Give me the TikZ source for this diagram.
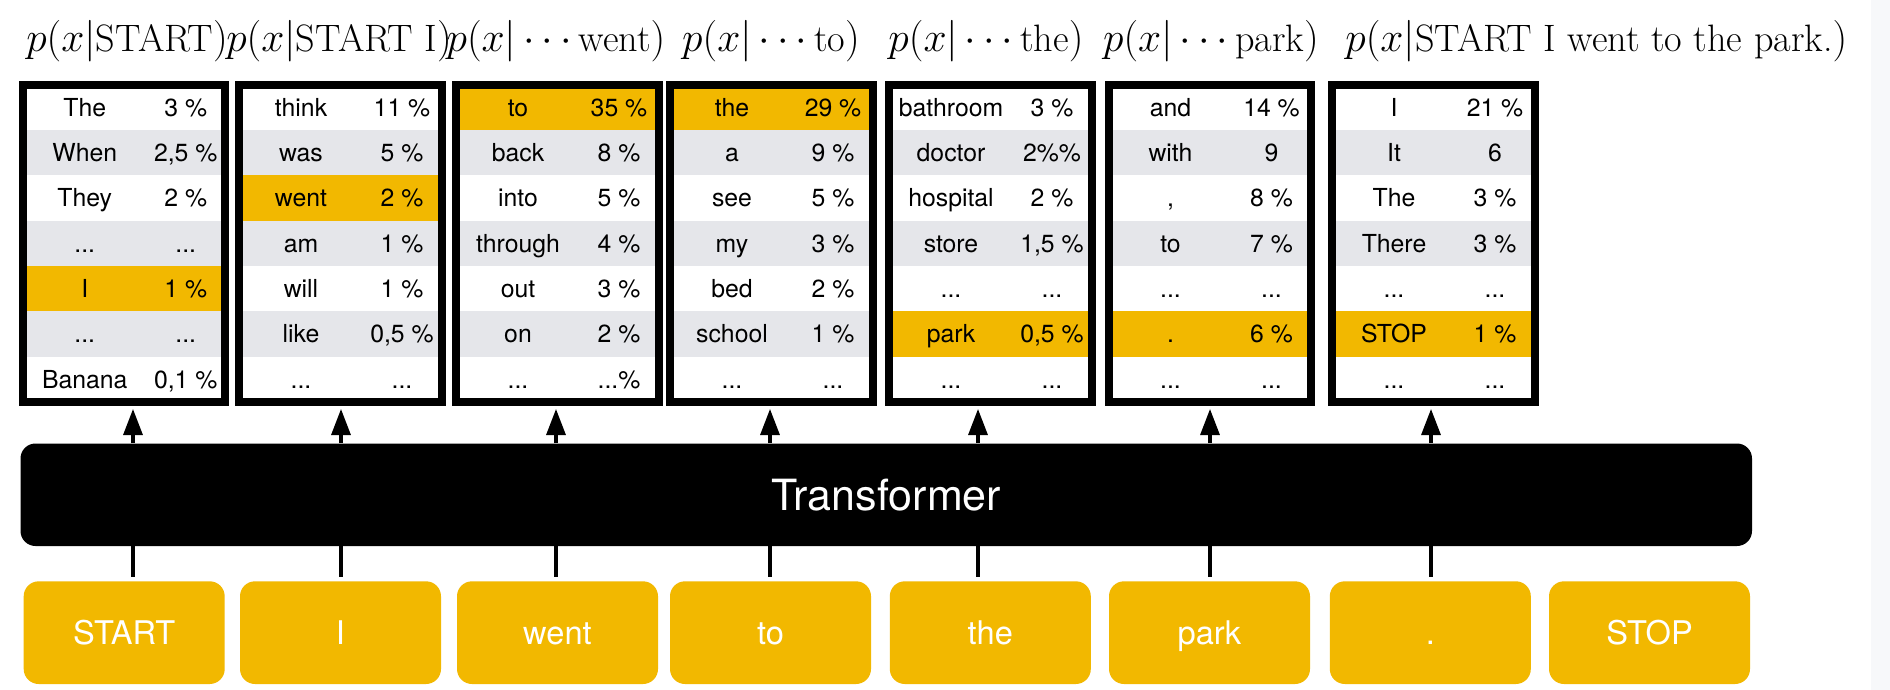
\documentclass[tikz,border=0pt]{standalone}
\usepackage{fontspec}
\newfontfamily\hel{TeX Gyre Heros}
\usetikzlibrary{arrows.meta}
\definecolor{ylw}{HTML}{F2B800}
\definecolor{rowgray}{HTML}{E5E6EA}
\definecolor{stripgray}{HTML}{F7F8FA}
\tikzset{
 cell/.style={anchor=base, inner sep=0pt, font=\hel\fontsize{12.4}{14}\selectfont},
 frame/.style={draw=black, line width=4pt, minimum width=101.25pt, minimum height=158.65pt, inner sep=0pt},
 ttl/.style={anchor=base, inner sep=0pt, font=\fontsize{19.1}{22}\selectfont},
 trans/.style={fill=black, rounded corners=7.5pt, minimum width=865.75pt, minimum height=51.25pt, text=white, font=\hel\fontsize{21.5}{24}\selectfont, inner sep=0pt},
 tok/.style={fill=ylw, rounded corners=7.5pt, minimum width=100.5pt, minimum height=51.35pt, text=white, font=\hel\fontsize{16.3}{19}\selectfont, inner sep=0pt, text height=11.7pt, text depth=0pt},
 arr/.style={line width=1.6pt, -{Triangle[length=13pt,width=9.5pt]}, shorten >=1.5pt},
 feed/.style={line width=1.6pt, shorten <=2pt},
}
% #1 id, #2 left x, #3 row, #4 fill, #5 word, #6 percent
\newcommand\trow[6]{%
 \fill[#4] (#2+4,{84.7+45.33*(#3-1)}) rectangle (#2+206.5,{84.7+45.33*#3});
 \node[cell] (#1w#3) at (#2+66,{84.7+45.33*(#3-0.5)+8.8}) {#5};
 \node[cell] (#1p#3) at (#2+167,{84.7+45.33*(#3-0.5)+8.8}) {#6};}
\begin{document}
\begin{tikzpicture}[x=0.5pt,y=-0.5pt]
\useasboundingbox (0,0) rectangle (1890,690);
\fill[white] (0,0) rectangle (1890,690);
\fill[stripgray] (1871,0) rectangle (1890,690);

% titles
\node[ttl] (t1) at (127,52) {$p(x|\textrm{START})$};
\node[ttl] (t2) at (339,52) {$p(x|\textrm{START I})$};
\node[ttl] (t3) at (556,52) {$p(x|\cdots\textrm{went})$};
\node[ttl] (t4) at (771,52) {$p(x|\cdots\textrm{to})$};
\node[ttl] (t5) at (986,52) {$p(x|\cdots\textrm{the})$};
\node[ttl] (t6) at (1211,52) {$p(x|\cdots\textrm{park})$};
\node[ttl, anchor=base west] (t7) at (1345,52) {$p(x|\textrm{START I went to the park.})$};

% table A
\trow{a}{18.75}{1}{white}{The}{3 \%}
\trow{a}{18.75}{2}{rowgray}{When}{2,5 \%}
\trow{a}{18.75}{3}{white}{They}{2 \%}
\trow{a}{18.75}{4}{rowgray}{...}{...}
\trow{a}{18.75}{5}{ylw}{I}{1 \%}
\trow{a}{18.75}{6}{rowgray}{...}{...}
\trow{a}{18.75}{7}{white}{Banana}{0,1 \%}
% table B
\trow{b}{235}{1}{white}{think}{11 \%}
\trow{b}{235}{2}{rowgray}{was}{5 \%}
\trow{b}{235}{3}{ylw}{went}{2 \%}
\trow{b}{235}{4}{rowgray}{am}{1 \%}
\trow{b}{235}{5}{white}{will}{1 \%}
\trow{b}{235}{6}{rowgray}{like}{0,5 \%}
\trow{b}{235}{7}{white}{...}{...}
% table C
\trow{c}{452}{1}{ylw}{to}{35 \%}
\trow{c}{452}{2}{rowgray}{back}{8 \%}
\trow{c}{452}{3}{white}{into}{5 \%}
\trow{c}{452}{4}{rowgray}{through}{4 \%}
\trow{c}{452}{5}{white}{out}{3 \%}
\trow{c}{452}{6}{rowgray}{on}{2 \%}
\trow{c}{452}{7}{white}{...}{...\%}
% table D
\trow{d}{666}{1}{ylw}{the}{29 \%}
\trow{d}{666}{2}{rowgray}{a}{9 \%}
\trow{d}{666}{3}{white}{see}{5 \%}
\trow{d}{666}{4}{rowgray}{my}{3 \%}
\trow{d}{666}{5}{white}{bed}{2 \%}
\trow{d}{666}{6}{rowgray}{school}{1 \%}
\trow{d}{666}{7}{white}{...}{...}
% table E
\trow{e}{885}{1}{white}{bathroom}{3 \%}
\trow{e}{885}{2}{rowgray}{doctor}{2\%\%}
\trow{e}{885}{3}{white}{hospital}{2 \%}
\trow{e}{885}{4}{rowgray}{store}{1,5 \%}
\trow{e}{885}{5}{white}{...}{...}
\trow{e}{885}{6}{ylw}{park}{0,5 \%}
\trow{e}{885}{7}{white}{...}{...}
% table F
\trow{f}{1104.5}{1}{white}{and}{14 \%}
\trow{f}{1104.5}{2}{rowgray}{with}{9}
\trow{f}{1104.5}{3}{white}{,}{8 \%}
\trow{f}{1104.5}{4}{rowgray}{to}{7 \%}
\trow{f}{1104.5}{5}{white}{...}{...}
\trow{f}{1104.5}{6}{ylw}{.}{6 \%}
\trow{f}{1104.5}{7}{white}{...}{...}
% table G
\trow{g}{1328}{1}{white}{I}{21 \%}
\trow{g}{1328}{2}{rowgray}{It}{6}
\trow{g}{1328}{3}{white}{The}{3 \%}
\trow{g}{1328}{4}{rowgray}{There}{3 \%}
\trow{g}{1328}{5}{white}{...}{...}
\trow{g}{1328}{6}{ylw}{STOP}{1 \%}
\trow{g}{1328}{7}{white}{...}{...}

% frames
\node[frame] (tabA) at (124,243.35) {};
\node[frame] (tabB) at (340.25,243.35) {};
\node[frame] (tabC) at (557.25,243.35) {};
\node[frame] (tabD) at (771.25,243.35) {};
\node[frame] (tabE) at (990.25,243.35) {};
\node[frame] (tabF) at (1209.75,243.35) {};
\node[frame] (tabG) at (1433.25,243.35) {};

% transformer
\node[trans] (trans) at (886.25,494.75) {Transformer};

% tokens
\node[tok] (in1) at (124.2,632.65) {START};
\node[tok] (in2) at (340.5,632.65) {I};
\node[tok] (in3) at (557.5,632.65) {went};
\node[tok] (in4) at (770.5,632.65) {to};
\node[tok] (in5) at (990.3,632.65) {the};
\node[tok] (in6) at (1209.5,632.65) {park};
\node[tok] (in7) at (1430.3,632.65) {.};
\node[tok] (in8) at (1649.5,632.65) {STOP};

% connector x positions
\coordinate (ax1) at (133,0);
\coordinate (ax2) at (341,0);
\coordinate (ax3) at (556,0);
\coordinate (ax4) at (770,0);
\coordinate (ax5) at (978,0);
\coordinate (ax6) at (1210,0);
\coordinate (ax7) at (1431,0);

\draw[arr] (trans.north -| ax1) -- (tabA.south -| ax1);
\draw[arr] (trans.north -| ax2) -- (tabB.south -| ax2);
\draw[arr] (trans.north -| ax3) -- (tabC.south -| ax3);
\draw[arr] (trans.north -| ax4) -- (tabD.south -| ax4);
\draw[arr] (trans.north -| ax5) -- (tabE.south -| ax5);
\draw[arr] (trans.north -| ax6) -- (tabF.south -| ax6);
\draw[arr] (trans.north -| ax7) -- (tabG.south -| ax7);

\draw[feed] (in1.north -| ax1) -- (trans.south -| ax1);
\draw[feed] (in2.north -| ax2) -- (trans.south -| ax2);
\draw[feed] (in3.north -| ax3) -- (trans.south -| ax3);
\draw[feed] (in4.north -| ax4) -- (trans.south -| ax4);
\draw[feed] (in5.north -| ax5) -- (trans.south -| ax5);
\draw[feed] (in6.north -| ax6) -- (trans.south -| ax6);
\draw[feed] (in7.north -| ax7) -- (trans.south -| ax7);
\end{tikzpicture}
\end{document}
